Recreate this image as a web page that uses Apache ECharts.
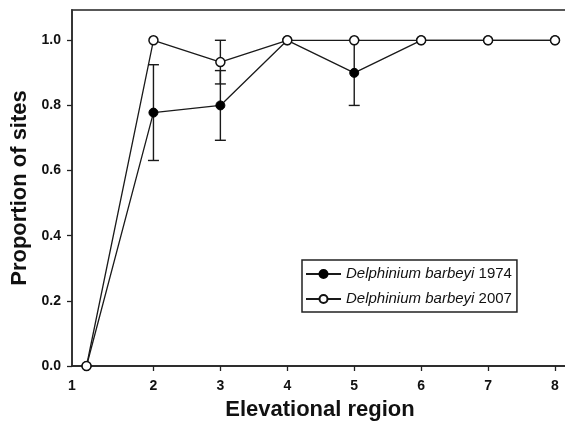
<!DOCTYPE html>
<html>
<head>
<meta charset="utf-8">
<script src="https://cdn.jsdelivr.net/npm/echarts@6/dist/echarts.min.js"></script>
<style>
  html, body { margin: 0; padding: 0; background: #fff; }
  #chart { width: 565px; height: 425px; }
</style>
</head>
<body>
<div id="chart"></div>
<script>
// data
var regions = [1, 2, 3, 4, 5, 6, 7, 8];
var y1974 = [0, 0.778, 0.80, 1.0, 0.90, 1.0, 1.0, 1.0];
var err1974 = [null, 0.147, 0.107, null, 0.10, null, null, null];
var y2007 = [0, 1.0, 0.933, 1.0, 1.0, 1.0, 1.0, 1.0];
var err2007 = [null, null, 0.067, null, null, null, null, null];
var yTicks = [0, 0.2, 0.4, 0.6, 0.8, 1.0];
var species = 'Delphinium barbeyi';
var years = ['1974', '2007'];

var FONT = 'Liberation Sans';
var INK = '#111';
var X_MIN = 0.783;

function pairs(ys) {
	return regions.map(function(x, i) { return [x, ys[i]]; });
}
function bars(ys, es) {
	var out = [];
	regions.forEach(function(x, i) {
		if (es[i] != null) out.push([x, ys[i] - es[i], Math.min(ys[i] + es[i], 1.0)]);
	});
	return out;
}

function renderErr(params, api) {
	var x = api.value(0);
	var lo = api.coord([x, api.value(1)]);
	var hi = api.coord([x, api.value(2)]);
	var w = 5.5;
	var st = { stroke: '#1a1a1a', lineWidth: 1.4 };
	return {
		type: 'group',
		children: [
			{ type: 'line', shape: { x1: lo[0], y1: lo[1], x2: hi[0], y2: hi[1] }, style: st },
			{ type: 'line', shape: { x1: lo[0] - w, y1: lo[1], x2: lo[0] + w, y2: lo[1] }, style: st },
			{ type: 'line', shape: { x1: hi[0] - w, y1: hi[1], x2: hi[0] + w, y2: hi[1] }, style: st }
		]
	};
}

// "1" label sits at the left end of the axis, as in the figure
var labelPos = regions.map(function(v) { return v === 1 ? X_MIN : v; });

var chart = echarts.init(document.getElementById('chart'));
var option = {
	animation: false,
	grid: {
		left: 72, width: 496, top: 10, bottom: 59,
		outerBoundsMode: 'none',
		show: true, borderColor: '#222', borderWidth: 1.5
	},
	legend: {
		orient: 'vertical',
		left: 302, top: 260,
		padding: [6, 5, 5, 3],
		borderColor: '#222', borderWidth: 1.5,
		backgroundColor: '#fff',
		itemWidth: 35, itemHeight: 10, itemGap: 9,
		selectedMode: false,
		data: [species + ' ' + years[0], species + ' ' + years[1]],
		formatter: function(name) {
			return '{i|' + species + '} ' + name.slice(species.length + 1);
		},
		textStyle: {
			fontFamily: FONT, fontSize: 15, color: INK, lineHeight: 16,
			rich: { i: { fontFamily: FONT, fontSize: 15, fontStyle: 'italic', color: INK } }
		}
	},
	xAxis: {
		type: 'value',
		min: X_MIN, max: 8.194,
		name: 'Elevational region',
		nameLocation: 'middle',
		nameGap: 33,
		nameTextStyle: { fontFamily: FONT, fontSize: 22, fontWeight: 'bold', color: INK },
		axisLine: { lineStyle: { color: '#222', width: 1.5 } },
		axisTick: { length: 5, lineStyle: { color: '#222', width: 1.3 }, customValues: regions.slice(1) },
		axisLabel: {
			customValues: labelPos,
			margin: 13,
			fontFamily: FONT, fontSize: 14, fontWeight: 'bold', color: INK,
			formatter: function(v) { return v < 1.5 ? '1' : String(Math.round(v)); }
		},
		splitLine: { show: false }
	},
	yAxis: {
		type: 'value',
		min: 0, max: 1.093,
		name: 'Proportion of sites',
		nameLocation: 'middle',
		nameGap: 41,
		nameTextStyle: { fontFamily: FONT, fontSize: 22, fontWeight: 'bold', color: INK },
		axisLine: { show: true, lineStyle: { color: '#333', width: 1.8 } },
		axisTick: { show: true, length: 5, lineStyle: { color: '#222', width: 1.3 }, customValues: yTicks },
		axisLabel: {
			customValues: yTicks,
			margin: 11,
			fontFamily: FONT, fontSize: 14, fontWeight: 'bold', color: INK,
			formatter: function(v) { return v.toFixed(1); }
		},
		splitLine: { show: false }
	},
	series: [
		{
			type: 'custom',
			name: 'err1974',
			renderItem: renderErr,
			encode: { x: 0, y: [1, 2] },
			data: bars(y1974, err1974),
			z: 1
		},
		{
			type: 'custom',
			name: 'err2007',
			renderItem: renderErr,
			encode: { x: 0, y: [1, 2] },
			data: bars(y2007, err2007),
			z: 1
		},
		{
			type: 'line',
			name: species + ' ' + years[0],
			data: pairs(y1974),
			symbol: 'circle',
			symbolSize: 9,
			lineStyle: { color: '#1a1a1a', width: 1.3 },
			itemStyle: { color: '#000', borderColor: '#000', borderWidth: 1 },
			z: 2
		},
		{
			type: 'line',
			name: species + ' ' + years[1],
			data: pairs(y2007),
			symbol: 'circle',
			symbolSize: 9,
			lineStyle: { color: '#1a1a1a', width: 1.3 },
			itemStyle: { color: '#fff', borderColor: '#111', borderWidth: 1.5 },
			z: 3
		}
	]
};
chart.setOption(option);
</script>
</body>
</html>
